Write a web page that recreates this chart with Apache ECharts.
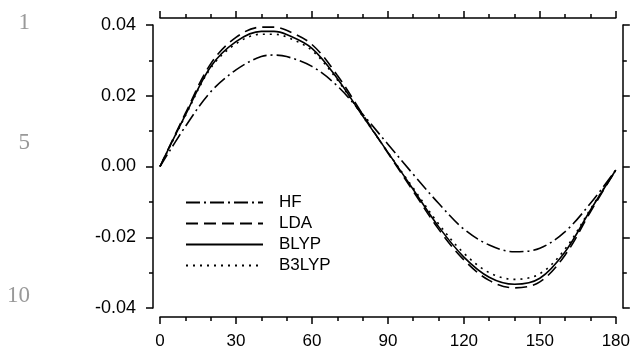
<!DOCTYPE html>
<html>
<head>
<meta charset="utf-8">
<script src="https://cdn.jsdelivr.net/npm/echarts@6/dist/echarts.min.js"></script>
<style>
html,body{margin:0;padding:0;background:#fff;}
#chart{width:633px;height:350px;}
</style>
</head>
<body>
<div id="chart"></div>
<script>
// Data
var angles = [0, 10, 20, 30, 40, 45, 50, 60, 70, 80, 90, 100, 110, 120, 130, 140, 150, 160, 170, 180];
var hfValues    = [0, 0.0113, 0.0211, 0.0273, 0.0311, 0.0315, 0.0311, 0.0283, 0.0228, 0.0148, 0.0063, -0.0022, -0.0104, -0.0177, -0.0222, -0.0241, -0.0231, -0.0184, -0.0104, -0.0010];
var ldaValues   = [0, 0.0150, 0.0290, 0.0365, 0.0394, 0.0394, 0.0385, 0.0345, 0.0258, 0.0148, 0.0038, -0.0070, -0.0177, -0.0264, -0.0322, -0.0343, -0.0326, -0.0250, -0.0128, -0.0010];
var blypValues  = [0, 0.0145, 0.0282, 0.0353, 0.0382, 0.0382, 0.0373, 0.0334, 0.0249, 0.0143, 0.0040, -0.0065, -0.0170, -0.0256, -0.0313, -0.0333, -0.0316, -0.0241, -0.0123, -0.0010];
var b3lypValues = [0, 0.0143, 0.0278, 0.0347, 0.0374, 0.0374, 0.0366, 0.0328, 0.0245, 0.0143, 0.0040, -0.0061, -0.0162, -0.0245, -0.0300, -0.0319, -0.0303, -0.0233, -0.0120, -0.0010];
var seriesNames = ['HF', 'LDA', 'BLYP', 'B3LYP'];
var lineNumbers = ['1', '5', '10'];

function pairs(vals) {
  return angles.map(function (a, i) { return [a, vals[i]]; });
}

var FONT = '"Liberation Sans", Arial, Helvetica, sans-serif';
var axisLineStyle = { color: '#000', width: 1.5 };

function xAxisCfg(pos, offset, showLabel) {
  return {
    type: 'value', position: pos, offset: offset,
    min: 0, max: 180, interval: 30,
    axisLine: { show: true, onZero: false, lineStyle: axisLineStyle },
    axisTick: { show: true, inside: false, length: 7, lineStyle: axisLineStyle },
    minorTick: { show: true, splitNumber: 3, length: 4, lineStyle: axisLineStyle },
    splitLine: { show: false },
    axisLabel: { show: showLabel, color: '#000', fontSize: 17, fontFamily: FONT, margin: 16 }
  };
}
function yAxisCfg(pos, offset, showLabel) {
  return {
    type: 'value', position: pos, offset: offset,
    min: -0.04, max: 0.04, interval: 0.02,
    axisLine: { show: true, onZero: false, lineStyle: axisLineStyle },
    axisTick: { show: true, inside: false, length: 7, lineStyle: axisLineStyle },
    minorTick: { show: true, splitNumber: 2, length: 4, lineStyle: axisLineStyle },
    splitLine: { show: false },
    axisLabel: {
      show: showLabel, color: '#000', fontSize: 18, fontFamily: FONT, margin: 17,
      formatter: function (v) { return v.toFixed(2); }
    }
  };
}

var styles = [
  { type: [14, 4, 2, 4] },
  { type: [12, 6] },
  { type: 'solid' },
  { type: [2, 5] }
];
var dataSets = [hfValues, ldaValues, blypValues, b3lypValues];

var chart = echarts.init(document.getElementById('chart'), null, { renderer: 'canvas' });
chart.setOption({
  animation: false,
  backgroundColor: '#fff',
  grid: { left: 160, right: 16, top: 25, bottom: 42 },
  xAxis: [xAxisCfg('bottom', 9, true), xAxisCfg('top', 7, false)],
  yAxis: [yAxisCfg('left', 7, true), yAxisCfg('right', 7, false)],
  legend: {
    orient: 'vertical', left: 185, top: 194, padding: 0,
    itemWidth: 77, itemHeight: 17, itemGap: 4,
    itemStyle: { color: 'rgba(0,0,0,0)', borderWidth: 0, opacity: 0 },
    textStyle: { color: '#000', fontSize: 17, fontFamily: FONT, padding: [0, 0, 0, 11] },
    data: seriesNames
  },
  series: seriesNames.map(function (n, i) {
    return {
      name: n, type: 'line', xAxisIndex: 0, yAxisIndex: 0,
      data: pairs(dataSets[i]), smooth: 0.35, symbol: 'none',
      itemStyle: { color: '#000' },
      lineStyle: { color: '#000', width: 1.6, type: styles[i].type }
    };
  }),
  graphic: [
    { type: 'text', right: 603, top: 11, style: { text: lineNumbers[0], fill: '#999', font: '23px "Liberation Serif", "Times New Roman", serif' } },
    { type: 'text', right: 603, top: 131, style: { text: lineNumbers[1], fill: '#999', font: '23px "Liberation Serif", "Times New Roman", serif' } },
    { type: 'text', right: 603, top: 284, style: { text: lineNumbers[2], fill: '#999', font: '23px "Liberation Serif", "Times New Roman", serif' } }
  ]
});
</script>
</body>
</html>
